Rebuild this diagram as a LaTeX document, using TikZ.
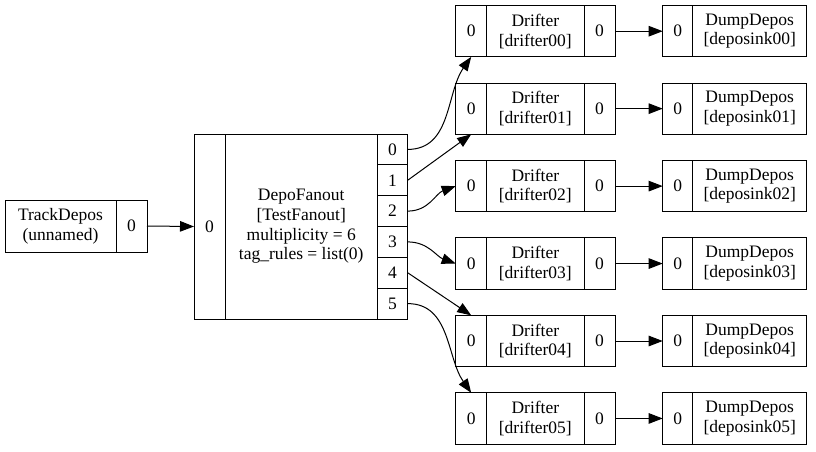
\documentclass[tikz,border=0pt]{standalone}
\usepackage{fontspec}
\setmainfont{Liberation Serif}
\usepackage{tikz}
\usetikzlibrary{
    arrows.meta,
    shapes
}
\tikzset{
    field/.style={draw, rectangle, inner sep=0pt, outer sep=0pt, align=center, line width=0.95pt,
        font=\fontsize{17.5}{19.7}\selectfont},
    trk/.style={field, minimum width=111pt, minimum height=52pt},
    trkport/.style={field, minimum width=31pt, minimum height=52pt},
    fanin/.style={field, minimum width=31pt, minimum height=185pt},
    fanbody/.style={field, minimum width=152.5pt, minimum height=185pt},
    fanport/.style={field, minimum width=30.2pt, minimum height=30.83pt},
    drport/.style={field, minimum width=31pt, minimum height=51.3pt},
    drbody/.style={field, minimum width=97.3pt, minimum height=51.3pt},
    dumpport/.style={field, minimum width=30pt, minimum height=51.3pt},
    dumpbody/.style={field, minimum width=114pt, minimum height=51.3pt},
    flow/.style={-{Triangle[length=14pt, width=10.5pt]}, line width=1pt}
}

\begin{document}
\begin{tikzpicture}[x=1pt, y=1pt]
    \useasboundingbox (0, 0) rectangle (816, -451);
    \node[trk] (td) at (60.5, -226) {TrackDepos\\(unnamed)};
    \node[trkport] (tdp) at (131.5, -226) {0};
    \node[fanin] (fin) at (209.5, -226.5) {0};
    \node[fanbody] (fan) at (301.25, -226.5) {DepoFanout\\{}[TestFanout]\\multiplicity = 6\\tag\_rules = list(0)};
    \node[fanport] (f0) at (392.6, -149.4) {0};
    \node[fanport] (f1) at (392.6, -180.25) {1};
    \node[fanport] (f2) at (392.6, -211.1) {2};
    \node[fanport] (f3) at (392.6, -241.9) {3};
    \node[fanport] (f4) at (392.6, -272.75) {4};
    \node[fanport] (f5) at (392.6, -303.6) {5};

    \node[drport] (d0in) at (471.2, -31.2) {0};
    \node[drbody] (d0) at (535.35, -31.2) {Drifter\\{}[drifter00]};
    \node[drport] (d0out) at (599.5, -31.2) {0};
    \node[drport] (d1in) at (471.2, -108.65) {0};
    \node[drbody] (d1) at (535.35, -108.65) {Drifter\\{}[drifter01]};
    \node[drport] (d1out) at (599.5, -108.65) {0};
    \node[drport] (d2in) at (471.2, -186.1) {0};
    \node[drbody] (d2) at (535.35, -186.1) {Drifter\\{}[drifter02]};
    \node[drport] (d2out) at (599.5, -186.1) {0};
    \node[drport] (d3in) at (471.2, -263.55) {0};
    \node[drbody] (d3) at (535.35, -263.55) {Drifter\\{}[drifter03]};
    \node[drport] (d3out) at (599.5, -263.55) {0};
    \node[drport] (d4in) at (471.2, -341) {0};
    \node[drbody] (d4) at (535.35, -341) {Drifter\\{}[drifter04]};
    \node[drport] (d4out) at (599.5, -341) {0};
    \node[drport] (d5in) at (471.2, -418.45) {0};
    \node[drbody] (d5) at (535.35, -418.45) {Drifter\\{}[drifter05]};
    \node[drport] (d5out) at (599.5, -418.45) {0};

    \node[dumpport] (s0in) at (677.7, -31.2) {0};
    \node[dumpbody] (s0) at (749.7, -31.2) {DumpDepos\\{}[deposink00]};
    \node[dumpport] (s1in) at (677.7, -108.65) {0};
    \node[dumpbody] (s1) at (749.7, -108.65) {DumpDepos\\{}[deposink01]};
    \node[dumpport] (s2in) at (677.7, -186.1) {0};
    \node[dumpbody] (s2) at (749.7, -186.1) {DumpDepos\\{}[deposink02]};
    \node[dumpport] (s3in) at (677.7, -263.55) {0};
    \node[dumpbody] (s3) at (749.7, -263.55) {DumpDepos\\{}[deposink03]};
    \node[dumpport] (s4in) at (677.7, -341) {0};
    \node[dumpbody] (s4) at (749.7, -341) {DumpDepos\\{}[deposink04]};
    \node[dumpport] (s5in) at (677.7, -418.45) {0};
    \node[dumpbody] (s5) at (749.7, -418.45) {DumpDepos\\{}[deposink05]};

    \path[flow]
    (tdp.east) edge (fin.west)
    (f0.east) edge[out=0, in=235] (d0in.south)
    (f1.east) edge (d1in.south)
    (f2.east) edge[out=0, in=200] (d2in.west)
    (f3.east) edge[out=0, in=160] (d3in.west)
    (f4.east) edge (d4in.north)
    (f5.east) edge[out=0, in=125] (d5in.north)
    (d0out.east) edge (s0in.west)
    (d1out.east) edge (s1in.west)
    (d2out.east) edge (s2in.west)
    (d3out.east) edge (s3in.west)
    (d4out.east) edge (s4in.west)
    (d5out.east) edge (s5in.west);
\end{tikzpicture}
\end{document}
